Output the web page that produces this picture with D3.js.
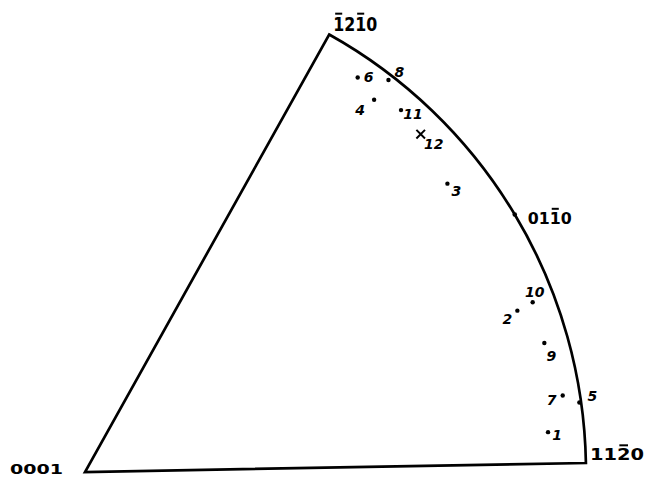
<!DOCTYPE html>
<html>
<head>
<meta charset="utf-8">
<script src="https://cdn.jsdelivr.net/npm/d3@7"></script>
<style>
  body { margin: 0; background: #fff; }
  svg { display: block; }
</style>
</head>
<body>
<svg id="chart" width="647" height="477"></svg>
<script>
// Hexagonal standard stereographic triangle with specimen axes 1–12.
// Azimuth: degrees from [11-20] toward [-12-10]; tilt: degrees from [0001].
const sampleIds     = ["1", "2", "3", "4", "5", "6", "7", "8", "9", "10", "11", "12"];
const sampleAzimuth = [3.9, 19.5, 37.6, 51.3, 7.0, 54.5, 8.1, 51.4, 14.7, 19.8, 48.0, 44.3];
const sampleTilt    = [85.7, 85.3, 85.5, 86.5, 89.8, 87.5, 88.0, 89.4, 87.2, 87.4, 87.6, 87.1];
const sampleMarker  = ["dot", "dot", "dot", "dot", "dot", "dot", "dot", "dot", "dot", "dot", "dot", "cross"];

// Principal poles at the triangle corners and the arc midpoint
// (U+0304 marks a barred index)
const poleLabels  = ["0001", "112\u03040", "011\u03040", "1\u030421\u03040"];
const poleAzimuth = [0, 0, 30, 60];
const poleTilt    = [0, 90, 90, 90];

// ---- layout ----
const width = 647, height = 477;
const origin = [85, 472];          // projection centre = [0001]
const primitiveRadius = 501;
const baseRotation = 1.03;         // tilt of the [11-20] edge, degrees

const toRad = d => d * Math.PI / 180;

// azimuth (deg) -> d3 polar angle (radians, clockwise from 12 o'clock)
const angle = d3.scaleLinear()
  .domain([0, 60])
  .range([toRad(90 - baseRotation), toRad(90 - baseRotation - 59.8)]);

// stereographic distance tan(tilt/2) -> pixels
const radius = d3.scaleLinear().domain([0, 1]).range([0, primitiveRadius]);

const project = (az, tilt) =>
  d3.pointRadial(angle(az), radius(Math.tan(toRad(tilt) / 2)));

// split "1\u03042" style strings into digits with a bar flag
function indexGlyphs(label) {
  const out = [];
  for (const ch of label) {
    if (ch === "\u0304") out[out.length - 1].bar = true;
    else out.push({ ch, bar: false });
  }
  return out;
}

// label offsets relative to each mark (pixels)
const sampleLabelOffset = {
  "1": [9, 3], "2": [-10, 8], "3": [9, 7], "4": [-14, 10],
  "5": [13, -6], "6": [11, 0], "7": [-11, 5], "8": [11, -8],
  "9": [7, 13], "10": [2, -10], "11": [12, 4], "12": [13, 10]
};
const poleLabelStyle = {
  "0001":             { dx: -22, dy: 1.5, anchor: "end",   size: 14, len: 53 },
  "112\u03040":       { dx: 4,   dy: -3,  anchor: "start", size: 16, len: 54 },
  "011\u03040":       { dx: 13,  dy: 9,   anchor: "start", size: 16, len: 44 },
  "1\u030421\u03040": { dx: 4,   dy: -4,  anchor: "start", size: 19, len: 44 }
};

const svg = d3.select("#chart");
svg.append("rect").attr("width", width).attr("height", height).attr("fill", "#fff");

const g = svg.append("g").attr("transform", `translate(${origin[0]},${origin[1]})`);

// triangle outline: two great-circle edges through [0001] and the primitive arc
const outline = d3.arc()
  .innerRadius(0)
  .outerRadius(radius(1))
  .startAngle(angle(60))
  .endAngle(angle(0));

g.append("path")
  .attr("d", outline())
  .attr("fill", "none")
  .attr("stroke", "#000")
  .attr("stroke-width", 2.7)
  .attr("stroke-linejoin", "miter");

// poles
const poles = poleLabels.map((label, i) => ({
  label,
  glyphs: indexGlyphs(label),
  style: poleLabelStyle[label],
  az: poleAzimuth[i],
  p: project(poleAzimuth[i], poleTilt[i])
}));

g.selectAll(".pole-dot")
  .data(poles.filter(d => d.az > 0 && d.az < 60))
  .join("circle")
  .attr("class", "pole-dot")
  .attr("cx", d => d.p[0])
  .attr("cy", d => d.p[1])
  .attr("r", 2.3)
  .attr("fill", "#000");

const poleText = g.selectAll(".pole-label")
  .data(poles)
  .join("text")
  .attr("class", "pole-label")
  .attr("x", d => d.p[0] + d.style.dx)
  .attr("y", d => d.p[1] + d.style.dy)
  .attr("text-anchor", d => d.style.anchor)
  .attr("font-family", "'DejaVu Sans', sans-serif")
  .attr("font-weight", "bold")
  .attr("font-size", d => d.style.size)
  .attr("textLength", d => d.style.len)
  .attr("lengthAdjust", "spacingAndGlyphs")
  .text(d => d.glyphs.map(c => c.ch).join(""));

// bars over negative indices
poleText.each(function (d) {
  const node = this;
  const baseline = d.p[1] + d.style.dy;
  d.glyphs.forEach((c, i) => {
    if (!c.bar) return;
    const box = node.getExtentOfChar(i);
    const inset = box.width * 0.18;
    const y = baseline - d.style.size * 0.73 - 3;
    g.append("line")
      .attr("class", "index-bar")
      .attr("x1", box.x + inset)
      .attr("x2", box.x + box.width - inset)
      .attr("y1", y)
      .attr("y2", y)
      .attr("stroke", "#000")
      .attr("stroke-width", 2);
  });
});

// specimen axes
const samples = sampleIds.map((id, i) => ({
  id, marker: sampleMarker[i], p: project(sampleAzimuth[i], sampleTilt[i])
}));

g.selectAll(".sample-dot")
  .data(samples.filter(d => d.marker === "dot"))
  .join("circle")
  .attr("class", "sample-dot")
  .attr("cx", d => d.p[0])
  .attr("cy", d => d.p[1])
  .attr("r", 2.2)
  .attr("fill", "#000");

g.selectAll(".sample-cross")
  .data(samples.filter(d => d.marker === "cross"))
  .join("path")
  .attr("class", "sample-cross")
  .attr("transform", d => `translate(${d.p[0]},${d.p[1]})`)
  .attr("d", d3.symbol(d3.symbolX, 50)())
  .attr("fill", "none")
  .attr("stroke", "#000")
  .attr("stroke-width", 2);

g.selectAll(".sample-label")
  .data(samples)
  .join("text")
  .attr("class", "sample-label")
  .attr("x", d => d.p[0] + sampleLabelOffset[d.id][0])
  .attr("y", d => d.p[1] + sampleLabelOffset[d.id][1])
  .attr("text-anchor", "middle")
  .attr("dominant-baseline", "central")
  .attr("font-family", "'DejaVu Sans', sans-serif")
  .attr("font-weight", "bold")
  .attr("font-style", "italic")
  .attr("font-size", 14)
  .text(d => d.id);
</script>
</body>
</html>
